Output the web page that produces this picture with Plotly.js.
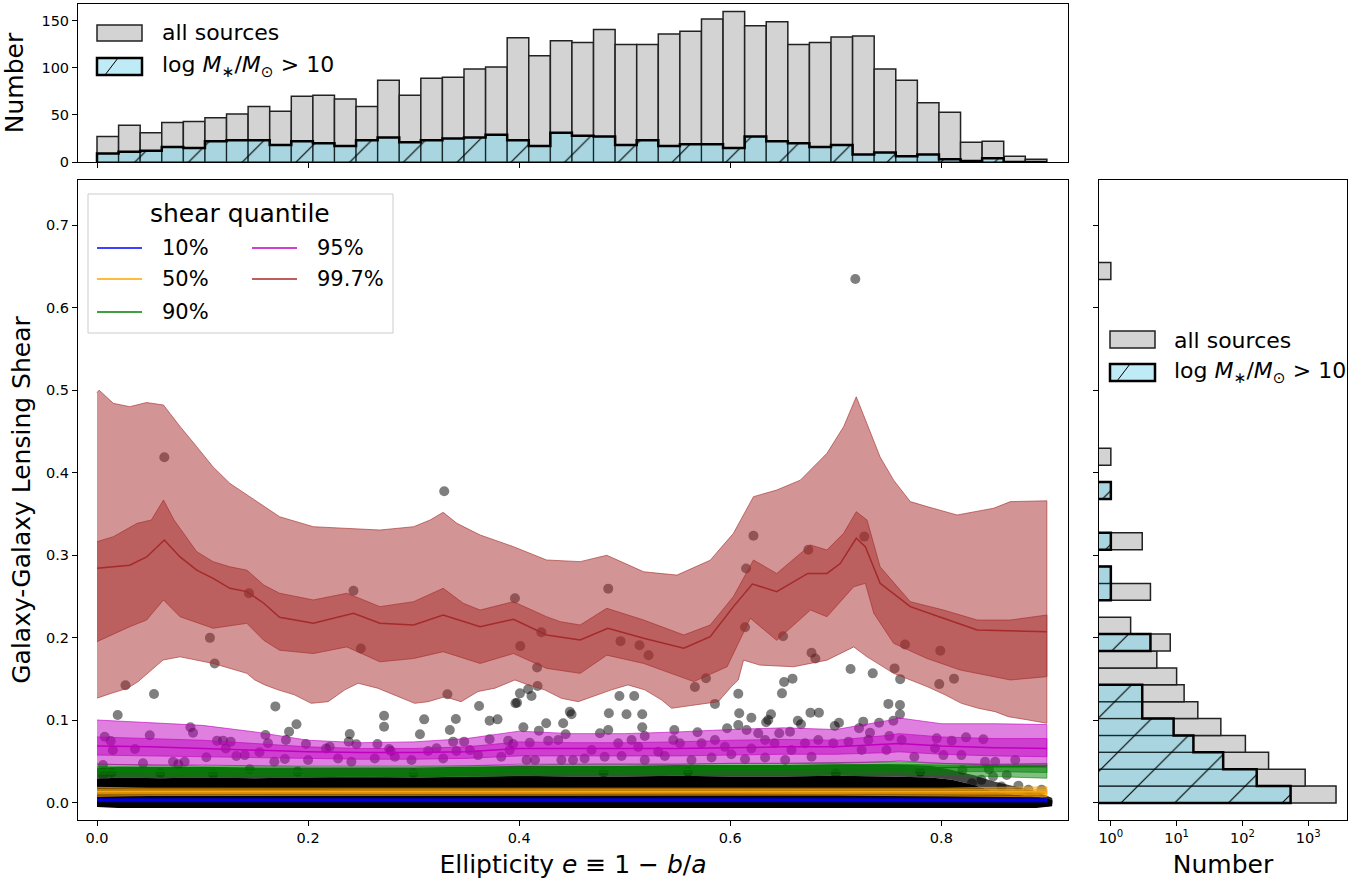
<!DOCTYPE html>
<html><head><meta charset="utf-8">
<script src="https://cdn.plot.ly/plotly-3.0.1.min.js"></script>
<style>html,body{margin:0;padding:0;background:#fff}#chart{width:1364px;height:884px}</style>
</head><body><div id="chart"></div>
<script>
// ---------------- DATA ----------------
// histogram bins (same bins for ellipticity and shear)
const BIN_START = 0.0, BIN_END = 0.9;
const TOP_ALL  = [27,39,31,42,43,47,51,59,54,70, 71,67,59,87,71,89,90,99,101,132, 113,129,127,141,125,125,136,139,152,160, 145,149,125,127,133,134,99,87,63,53, 21,22,6,3];
const TOP_MASS = [9,11,12,16,15,22,23,23,18,22, 20,17,23,26,21,23,25,26,29,23, 17,31,28,27,18,23,17,19,19,15, 27,22,20,16,18,8,10,6,8,3, 1,4,0,0];
const RIGHT_ALL  = [2650,900,250,111,47,21,13,10,5,8, 2,0,4,1,0,3,0,0,1,0, 1,0,0,0,0,0,0,0,0,0, 0,1,0,0,0,0,0,0,0,0, 0,0,0,0];
const RIGHT_MASS = [540,165,51,18,9,3,3,0,0,4, 0,0,1,1,0,1,0,0,1,0, 0,0,0,0,0,0,0,0,0,0, 0,0,0,0,0,0,0,0,0,0, 0,0,0,0];

// individual sources (ellipticity, shear)
const SCATTER_E = [
 0.7185,0.0638,0.329,0.622,0.674,0.727,0.615,0.4844,0.144,0.243,
 0.396,0.421,0.614,0.107,0.250,0.401,0.496,0.514,0.650,0.7656,
 0.799,0.1115,0.417,0.5226,0.677,0.6806,0.7557,0.714,0.735,0.761,
 0.798,0.812,0.577,0.659,0.651,0.5665,0.027,0.054,0.332,0.4007,
 0.4085,0.4174,0.4117,0.3965,0.398,0.649,0.6076,0.495,0.509,
 0.0196,0.169,0.272,0.362,0.310,0.340,0.372,0.3795,0.448,0.4496,
 0.5855,0.485,0.5017,0.5166,0.6085,0.620,0.6386,0.636,0.676,0.684,
 0.7498,0.7608,0.7608,0.664,
 0.272,0.189,0.182,0.0885,0.091,0.1596,0.050,0.0073,0.2395,0.306,
 0.3343,0.4256,0.4187,0.4417,0.444,0.404,0.634,0.667,0.4844,0.4765,
 0.5166,0.519,0.547,0.569,0.597,0.6076,0.6155,0.6265,0.6464,0.6566,
 0.703,0.699,0.726,0.741,0.7545,0.722,0.7324,0.7507,
 0.013,0.036,0.015,0.1137,0.1194,0.1267,0.122,0.162,0.179,0.198,
 0.217,0.2385,0.2657,0.2458,0.2768,0.2784,0.3137,0.3217,0.3374,0.3479,
 0.372,0.3896,0.3943,0.410,0.4275,0.437,0.3406,0.3533,0.391,0.2205,
 0.154,0.6976,0.712,0.7308,0.7624,0.7956,0.8098,0.8234,0.8398,0.748,
 0.7245,0.794,
 0.4686,0.4938,0.5065,0.5128,0.5318,0.546,0.5523,0.5728,0.5855,0.595,0.620,0.633,0.642,0.658,0.6708,0.6834,
 0.1036,0.132,0.140,0.178,0.200,0.168,0.072,0.077,0.083,0.0436,
 0.0057,0.1447,0.328,0.361,0.2632,0.2822,0.298,0.383,0.2284,0.241,
 0.407,0.415,0.440,0.451,0.7744,0.802,0.819,0.8414,0.851,0.870,
 0.462,0.481,0.497,0.519,0.538,0.5633,0.5823,0.601,0.614,0.633,0.652,0.677,
 0.862,0.849,0.838,0.829,0.857,0.873,0.8825,0.895,0.901,
 0.006,0.014,0.060,0.110,0.190,0.300,0.480,0.560,0.700,0.780,0.820,0.845
];
const SCATTER_S = [
 0.6346,0.4187,0.3775,0.3237,0.3068,0.3226,0.284,0.2596,0.254,0.257,
 0.248,0.2067,0.2128,0.200,0.187,0.190,0.196,0.191,0.202,0.192,
 0.1845,0.169,0.164,0.179,0.182,0.175,0.163,0.1623,0.157,0.150,
 0.144,0.1506,0.151,0.1506,0.1465,0.1405,0.1425,0.132,0.1316,0.1328,
 0.1377,0.1417,0.1296,0.1207,0.1215,0.1328,0.1324,0.1296,0.1296,
 0.1066,0.117,0.1057,0.1175,0.1013,0.1017,0.0997,0.1013,0.1106,0.1074,
 0.120,0.1086,0.1074,0.1074,0.1086,0.1033,0.1074,0.1005,0.1094,0.1094,
 0.120,0.1187,0.1074,0.0997,
 0.0924,0.0953,0.0864,0.0917,0.085,0.0824,0.082,0.0803,0.0836,0.0832,
 0.0884,0.0965,0.0876,0.0965,0.0832,0.0917,0.0977,0.0953,0.0884,0.0844,
 0.0917,0.0811,0.0884,0.0856,0.0905,0.0945,0.0884,0.0844,0.0844,0.0864,
 0.0972,0.0933,0.0985,0.0972,0.0997,0.0905,0.0851,0.081,
 0.075,0.0654,0.064,0.0755,0.0755,0.0743,0.066,0.0723,0.0763,0.0714,
 0.066,0.0743,0.0714,0.0711,0.0654,0.063,0.063,0.0662,0.0743,0.0743,
 0.0771,0.0755,0.0714,0.073,0.0755,0.0763,0.063,0.0642,0.064,0.068,
 0.0614,0.0723,0.0743,0.0763,0.0763,0.0783,0.0755,0.0795,0.0771,0.0642,
 0.0642,0.0662,
 0.0642,0.0723,0.0763,0.068,0.062,0.0763,0.0723,0.0723,0.0763,0.068,0.066,0.0763,0.0723,0.0642,0.0723,0.0763,
 0.0553,0.057,0.058,0.0533,0.052,0.050,0.050,0.047,0.050,0.048,
 0.046,0.0408,0.054,0.058,0.054,0.056,0.052,0.056,0.054,0.050,
 0.052,0.052,0.052,0.052,0.056,0.058,0.058,0.050,0.050,0.052,
 0.054,0.056,0.057,0.052,0.057,0.052,0.055,0.059,0.053,0.055,0.052,0.056,
 0.034,0.032,0.028,0.024,0.020,0.021,0.016,0.016,0.0016,
 0.033,0.037,0.036,0.035,0.038,0.036,0.037,0.038,0.036,0.038,0.040,0.041
];
// envelope of the densely packed sources near zero shear
const CLOUD_E     = [0.0,0.02,0.06,0.10,0.15,0.20,0.25,0.30,0.35,0.40,0.45,0.50,0.55,0.60,0.65,0.70,0.75,0.79,0.81,0.83,0.85,0.87,0.89,0.905];
const CLOUD_TOP   = [0.029,0.031,0.030,0.031,0.030,0.031,0.032,0.031,0.032,0.033,0.032,0.032,0.033,0.032,0.032,0.033,0.032,0.031,0.028,0.022,0.014,0.010,0.008,0.004];
const CLOUD_BOT   = [-0.005,-0.006,-0.006,-0.006,-0.006,-0.006,-0.006,-0.006,-0.006,-0.006,-0.006,-0.006,-0.006,-0.006,-0.006,-0.006,-0.006,-0.006,-0.006,-0.006,-0.006,-0.006,-0.006,-0.004];
const SPARSE_TOP  = [0.042,0.044,0.044,0.044,0.043,0.043,0.043,0.043,0.044,0.045,0.045,0.045,0.046,0.046,0.046,0.047,0.047,0.045,0.040,0.034,0.026,0.020,0.014,0.006];

// 99.7% quantile: line, inner band, outer band
const R_OUT_TOP_E = [0.000,0.002,0.0155,0.031,0.047,0.063,0.069,0.0787,0.0945,0.110,0.126,0.142,0.1577,0.173,0.205,0.2367,0.268,0.300,0.3156,0.328,0.341,0.363,0.3946,0.426,0.4578,0.483,0.518,0.5495,0.581,0.603,0.622,0.644,0.6664,0.6916,0.7074,0.7194,0.7296,0.742,0.7548,0.7706,0.7864,0.8149,0.8496,0.8654,0.900];
const R_OUT_TOP   = [0.497,0.500,0.484,0.480,0.485,0.482,0.472,0.456,0.4315,0.407,0.387,0.373,0.359,0.3467,0.3346,0.3327,0.3306,0.3346,0.3427,0.352,0.3387,0.3246,0.3104,0.2943,0.2923,0.300,0.280,0.276,0.294,0.3266,0.371,0.379,0.391,0.4235,0.4557,0.492,0.460,0.419,0.391,0.365,0.359,0.3488,0.357,0.365,0.366];
const R_OUT_BOT_E = [0.000,0.0136,0.029,0.039,0.0626,0.0787,0.110,0.142,0.1495,0.159,0.1716,0.187,0.203,0.219,0.2348,0.2474,0.266,0.282,0.301,0.3137,0.3296,0.345,0.361,0.377,0.396,0.4085,0.424,0.440,0.456,0.4875,0.503,0.519,0.535,0.5444,0.5665,0.5886,0.601,0.6076,0.6126,0.628,0.660,0.6916,0.717,0.7296,0.7548,0.7864,0.8035,0.819,0.835,0.851,0.8635,0.8825,0.900];
const R_OUT_BOT   = [0.127,0.1328,0.139,0.147,0.1732,0.177,0.169,0.157,0.149,0.143,0.137,0.131,0.1207,0.1227,0.137,0.145,0.139,0.131,0.1207,0.1227,0.1287,0.1227,0.135,0.139,0.149,0.143,0.137,0.1268,0.1227,0.137,0.143,0.137,0.1247,0.1147,0.1187,0.1227,0.1408,0.149,0.173,0.167,0.165,0.173,0.189,0.177,0.157,0.141,0.131,0.1207,0.1147,0.1106,0.1045,0.1005,0.0965];
const R_IN_TOP_E  = [0.000,0.0155,0.038,0.0515,0.063,0.073,0.0945,0.110,0.126,0.142,0.158,0.173,0.205,0.2367,0.2525,0.268,0.300,0.328,0.347,0.363,0.3946,0.426,0.4389,0.4578,0.483,0.518,0.556,0.581,0.603,0.622,0.644,0.676,0.6916,0.7074,0.7194,0.7296,0.742,0.7706,0.802,0.834,0.8654,0.900];
const R_IN_TOP    = [0.3165,0.3225,0.3387,0.3427,0.367,0.3427,0.3044,0.2923,0.286,0.282,0.264,0.254,0.2459,0.254,0.2459,0.2378,0.2438,0.260,0.2419,0.2337,0.2438,0.2256,0.2196,0.2156,0.2358,0.2216,0.2035,0.2156,0.250,0.2943,0.278,0.3125,0.3064,0.3266,0.3528,0.3427,0.286,0.2438,0.2337,0.2216,0.2216,0.2277];
const R_IN_BOT_E  = [0.000,0.031,0.047,0.063,0.0787,0.110,0.142,0.158,0.173,0.205,0.2367,0.268,0.300,0.328,0.363,0.3946,0.426,0.4389,0.4578,0.483,0.518,0.5655,0.597,0.619,0.644,0.676,0.6916,0.717,0.728,0.736,0.7548,0.7864,0.818,0.8654,0.900];
const R_IN_BOT    = [0.1954,0.2135,0.2216,0.2459,0.2256,0.2116,0.2176,0.197,0.185,0.181,0.189,0.171,0.175,0.1832,0.169,0.181,0.163,0.161,0.157,0.179,0.169,0.147,0.165,0.2237,0.197,0.2337,0.2256,0.262,0.266,0.2297,0.1934,0.175,0.161,0.149,0.153];
const R_LINE_E    = [0.000,0.031,0.047,0.0638,0.0787,0.0945,0.110,0.126,0.142,0.158,0.173,0.205,0.243,0.268,0.300,0.328,0.363,0.3946,0.426,0.4578,0.484,0.518,0.556,0.581,0.603,0.621,0.644,0.6735,0.6916,0.7042,0.7194,0.728,0.742,0.7706,0.802,0.834,0.900];
const R_LINE      = [0.2842,0.288,0.298,0.3185,0.298,0.282,0.272,0.260,0.256,0.2419,0.2249,0.2176,0.2297,0.2176,0.2156,0.2277,0.2135,0.2225,0.2035,0.1974,0.2116,0.1995,0.1874,0.2014,0.2378,0.2652,0.256,0.278,0.278,0.290,0.3206,0.3104,0.266,0.2378,0.2237,0.2095,0.2075];

// lower quantiles (95%, 90%, 50%, 10%) on a common ellipticity grid
const Q_E       = [0,0.05,0.1,0.15,0.2,0.25,0.3,0.35,0.4,0.45,0.5,0.55,0.6,0.65,0.7,0.75,0.76,0.8,0.85,0.9];
const M_OUT_TOP = [0.1005,0.097,0.094,0.086,0.076,0.073,0.074,0.078,0.087,0.084,0.084,0.086,0.089,0.091,0.089,0.100,0.103,0.096,0.096,0.095];
const M_IN_TOP  = [0.080,0.078,0.076,0.072,0.068,0.066,0.066,0.068,0.074,0.073,0.073,0.074,0.076,0.077,0.076,0.082,0.084,0.080,0.078,0.078];
const M_LINE    = [0.069,0.068,0.066,0.064,0.062,0.061,0.061,0.062,0.066,0.066,0.066,0.066,0.067,0.068,0.068,0.071,0.072,0.069,0.067,0.066];
const M_IN_BOT  = [0.058,0.057,0.056,0.055,0.054,0.053,0.053,0.054,0.057,0.057,0.057,0.057,0.058,0.059,0.059,0.061,0.062,0.059,0.057,0.056];
const M_OUT_BOT = [0.047,0.046,0.046,0.045,0.045,0.045,0.045,0.045,0.047,0.047,0.047,0.047,0.048,0.048,0.048,0.050,0.051,0.048,0.046,0.045];
const G_OUT_TOP = [0.047,0.046,0.045,0.045,0.044,0.044,0.044,0.045,0.046,0.047,0.047,0.047,0.048,0.048,0.049,0.050,0.050,0.048,0.047,0.048];
const G_IN_TOP  = [0.044,0.043,0.042,0.042,0.041,0.041,0.041,0.042,0.043,0.044,0.044,0.044,0.045,0.045,0.046,0.047,0.047,0.046,0.046,0.046];
const G_LINE    = [0.040,0.039,0.039,0.038,0.038,0.038,0.038,0.039,0.040,0.041,0.041,0.041,0.042,0.042,0.043,0.043,0.043,0.043,0.044,0.044];
const G_IN_BOT  = [0.035,0.035,0.034,0.034,0.034,0.034,0.034,0.035,0.036,0.037,0.037,0.037,0.038,0.038,0.038,0.039,0.039,0.038,0.038,0.037];
const G_OUT_BOT = [0.031,0.031,0.031,0.031,0.031,0.031,0.031,0.032,0.033,0.033,0.033,0.034,0.034,0.034,0.034,0.035,0.035,0.034,0.032,0.030];
const O_OUT_TOP = [0.019,0.018,0.018,0.018,0.018,0.018,0.018,0.018,0.018,0.018,0.018,0.018,0.018,0.018,0.018,0.018,0.018,0.018,0.019,0.0195];
const O_IN_TOP  = [0.016,0.0158,0.0158,0.0158,0.0158,0.016,0.016,0.016,0.0162,0.0162,0.0162,0.0162,0.0162,0.0162,0.0162,0.016,0.016,0.0158,0.0162,0.0165];
const O_LINE    = [0.0135,0.0135,0.0135,0.0135,0.0135,0.0138,0.0138,0.0138,0.014,0.014,0.014,0.014,0.014,0.014,0.014,0.0138,0.0138,0.0135,0.0135,0.0135];
const O_IN_BOT  = [0.011,0.0112,0.0112,0.0112,0.0112,0.0115,0.0115,0.0115,0.0118,0.0118,0.0118,0.0118,0.0118,0.0118,0.0118,0.0115,0.0115,0.0112,0.0108,0.0105];
const O_OUT_BOT = [0.008,0.009,0.0095,0.0095,0.0095,0.0095,0.0095,0.0095,0.0095,0.0095,0.0095,0.0095,0.0095,0.0095,0.0095,0.0095,0.0095,0.009,0.008,0.0075];
const B_OUT_TOP = [0.006,0.0058,0.0058,0.0058,0.0058,0.0058,0.0058,0.0058,0.0058,0.0058,0.0058,0.0058,0.0058,0.0058,0.0058,0.0058,0.0058,0.0058,0.006,0.0062];
const B_LINE    = [0.0037,0.0037,0.0037,0.0037,0.0037,0.0037,0.0037,0.0037,0.0037,0.0037,0.0037,0.0037,0.0037,0.0037,0.0037,0.0037,0.0037,0.0037,0.0037,0.0037];
const B_OUT_BOT = [0.0015,0.0016,0.0016,0.0016,0.0016,0.0016,0.0016,0.0016,0.0016,0.0016,0.0016,0.0016,0.0016,0.0016,0.0016,0.0016,0.0016,0.0016,0.0014,0.0012];

const QUANTILE_LABELS = ['10%','50%','90%','95%','99.7%'];
const QUANTILE_COLORS = ['#0000ff','#ffa500','#008000','#bf00bf','#a52a2a'];

// ---------------- BUILD ----------------
const NB = TOP_ALL.length;
const BW = (BIN_END - BIN_START) / NB;
const EDGES = Array.from({length: NB + 1}, (_, i) => BIN_START + i * BW);
const CENTERS = EDGES.slice(0, -1).map(e => e + BW / 2);
const nz = a => a.map(v => v > 0 ? v : null);

function stepPath(counts, floor) {
  const p = [EDGES[0]], c = [floor];
  counts.forEach((n, i) => { const v = n > 0 ? n : floor; p.push(EDGES[i], EDGES[i + 1]); c.push(v, v); });
  p.push(EDGES[NB]); c.push(floor);
  return [p, c];
}
function rgba(hex, a) {
  const n = parseInt(hex.slice(1), 16);
  return `rgba(${(n >> 16) & 255},${(n >> 8) & 255},${n & 255},${a})`;
}
function polygon(xt, yt, xb, yb, color, alpha) {
  return {type: 'scatter', mode: 'lines', x: xt.concat(xb.slice().reverse()), y: yt.concat(yb.slice().reverse()),
    fill: 'toself', fillcolor: rgba(color, alpha), line: {color: rgba(color, Math.min(1, alpha + 0.1)), width: 1},
    hoverinfo: 'skip', showlegend: false, xaxis: 'x', yaxis: 'y'};
}
function qline(xs, ys, color, name) {
  return {type: 'scatter', mode: 'lines', x: xs, y: ys, line: {color: color, width: 1.5}, name: name,
    hoverinfo: 'skip', showlegend: false, xaxis: 'x', yaxis: 'y'};
}

const GREY = '#d3d3d3', CYAN = 'rgba(125,215,235,0.5)';
const pattern = {shape: '/', fgcolor: '#000000', bgcolor: CYAN, size: 38, solidity: 0.03, fillmode: 'replace'};

const traces = [];
// top histogram
traces.push({type: 'bar', x: CENTERS, y: nz(TOP_ALL), width: BW, xaxis: 'x2', yaxis: 'y2',
  marker: {color: GREY, line: {color: '#222', width: 1.5}}, hoverinfo: 'skip', showlegend: false});
traces.push({type: 'bar', x: CENTERS, y: nz(TOP_MASS), width: BW, xaxis: 'x2', yaxis: 'y2',
  marker: {color: CYAN, line: {color: 'rgba(0,0,0,0.55)', width: 1}, pattern: pattern}, hoverinfo: 'skip', showlegend: false});
const topStep = stepPath(TOP_MASS, 0);
traces.push({type: 'scatter', mode: 'lines', x: topStep[0], y: topStep[1], xaxis: 'x2', yaxis: 'y2',
  line: {color: '#000', width: 2.5}, hoverinfo: 'skip', showlegend: false});
// right histogram
traces.push({type: 'bar', orientation: 'h', y: CENTERS, x: nz(RIGHT_ALL), width: BW, xaxis: 'x3', yaxis: 'y3',
  marker: {color: GREY, line: {color: '#222', width: 1.5}}, hoverinfo: 'skip', showlegend: false});
traces.push({type: 'bar', orientation: 'h', y: CENTERS, x: nz(RIGHT_MASS), width: BW, xaxis: 'x3', yaxis: 'y3',
  marker: {color: CYAN, line: {color: 'rgba(0,0,0,0.55)', width: 1}, pattern: pattern}, hoverinfo: 'skip', showlegend: false});
const rightStep = stepPath(RIGHT_MASS, 0.01);
traces.push({type: 'scatter', mode: 'lines', x: rightStep[1], y: rightStep[0], xaxis: 'x3', yaxis: 'y3',
  line: {color: '#000', width: 2.5}, hoverinfo: 'skip', showlegend: false});

// main panel: dense cloud + individual sources
traces.push({type: 'scatter', mode: 'lines', x: CLOUD_E.concat(CLOUD_E.slice().reverse()), y: SPARSE_TOP.concat(CLOUD_TOP.slice().reverse()),
  fill: 'toself', fillcolor: 'rgba(0,0,0,0.72)', line: {width: 0}, hoverinfo: 'skip', showlegend: false});
traces.push({type: 'scatter', mode: 'lines', x: CLOUD_E.concat(CLOUD_E.slice().reverse()), y: CLOUD_TOP.concat(CLOUD_BOT.slice().reverse()),
  fill: 'toself', fillcolor: '#000000', line: {width: 0}, hoverinfo: 'skip', showlegend: false});
traces.push({type: 'scatter', mode: 'markers', x: SCATTER_E, y: SCATTER_S, xaxis: 'x', yaxis: 'y',
  marker: {size: 10, color: 'rgba(0,0,0,0.5)', line: {width: 0}}, hoverinfo: 'skip', showlegend: false});

// quantile bands
const [cB, cO, cG, cM, cR] = QUANTILE_COLORS;
traces.push(polygon(Q_E, B_OUT_TOP, Q_E, B_OUT_BOT, cB, 0.5));
traces.push(qline(Q_E, B_LINE, cB, QUANTILE_LABELS[0]));
traces.push(polygon(Q_E, O_OUT_TOP, Q_E, O_OUT_BOT, cO, 0.5));
traces.push(polygon(Q_E, O_IN_TOP, Q_E, O_IN_BOT, cO, 0.5));
traces.push(qline(Q_E, O_LINE, cO, QUANTILE_LABELS[1]));
traces.push(polygon(Q_E, G_OUT_TOP, Q_E, G_OUT_BOT, cG, 0.5));
traces.push(polygon(Q_E, G_IN_TOP, Q_E, G_IN_BOT, cG, 0.5));
traces.push(qline(Q_E, G_LINE, cG, QUANTILE_LABELS[2]));
traces.push(polygon(Q_E, M_OUT_TOP, Q_E, M_OUT_BOT, cM, 0.5));
traces.push(polygon(Q_E, M_IN_TOP, Q_E, M_IN_BOT, cM, 0.5));
traces.push(qline(Q_E, M_LINE, cM, QUANTILE_LABELS[3]));
traces.push(polygon(R_OUT_TOP_E, R_OUT_TOP, R_OUT_BOT_E, R_OUT_BOT, cR, 0.5));
traces.push(polygon(R_IN_TOP_E, R_IN_TOP, R_IN_BOT_E, R_IN_BOT, cR, 0.5));
traces.push(qline(R_LINE_E, R_LINE, cR, QUANTILE_LABELS[4]));

// ---------------- LAYOUT ----------------
const ML = 78, MR = 17, MT = 4, MB = 64, W = 1364, H = 884;
const PW = W - ML - MR, PH = H - MT - MB;
const PX = px => (px - ML) / PW;
const PY = py => (H - MB - py) / PH;
const FONT = 'DejaVu Sans, Verdana, sans-serif';

const axBase = {showline: true, linecolor: '#000', linewidth: 1, mirror: true, ticks: 'outside', ticklen: 5,
  tickwidth: 1, tickcolor: '#000', showgrid: false, zeroline: false, tickfont: {size: 14.5, color: '#000'}};

const shapes = [], annotations = [];
function rect(x0, y0, x1, y1, fill, lc, lw) {
  shapes.push({type: 'rect', xref: 'paper', yref: 'paper', x0: PX(x0), x1: PX(x1), y0: PY(y1), y1: PY(y0),
    fillcolor: fill, line: {color: lc, width: lw}, layer: 'above'});
}
function seg(x0, y0, x1, y1, color, w) {
  shapes.push({type: 'line', xref: 'paper', yref: 'paper', x0: PX(x0), x1: PX(x1), y0: PY(y0), y1: PY(y1),
    line: {color: color, width: w}, layer: 'above'});
}
function label(x, y, text, size, anchor) {
  annotations.push({xref: 'paper', yref: 'paper', x: PX(x), y: PY(y), text: text, showarrow: false,
    xanchor: anchor || 'left', yanchor: 'middle', font: {size: size, color: '#000', family: FONT}});
}
const MASS_LABEL = 'log <i>M</i><sub>∗</sub>/<i>M</i><sub>⊙</sub> &gt; 10';

// main legend
rect(88, 194, 393, 333, 'rgba(255,255,255,0.8)', '#cccccc', 1);
label(240, 214, 'shear quantile', 25, 'center');
const legPos = [[97, 248], [97, 279], [97, 312], [252, 248], [252, 279]];
QUANTILE_LABELS.forEach((t, i) => {
  const [x, y] = legPos[i];
  seg(x, y, x + 45, y, QUANTILE_COLORS[i], 1.5);
  label(x + 63, y, t, 21);
});
// top histogram legend
rect(97, 25, 142, 41, GREY, '#222', 1.5);
label(160, 33, 'all sources', 22);
rect(97, 58, 142, 75, 'rgb(190,235,245)', '#000', 2.5);
seg(105, 75, 118, 58, '#000', 1);
label(160, 67, MASS_LABEL, 22);
// right histogram legend
rect(1110, 331, 1155, 348, GREY, '#222', 1.5);
label(1172, 340, 'all sources', 22);
rect(1110, 364, 1155, 381, 'rgb(190,235,245)', '#000', 2.5);
seg(1117, 381, 1130, 364, '#000', 1);
label(1172, 373, MASS_LABEL, 22);

const layout = {
  width: W, height: H, margin: {l: ML, r: MR, t: MT, b: MB}, paper_bgcolor: '#fff', plot_bgcolor: '#fff',
  font: {family: FONT, color: '#000'}, showlegend: false, barmode: 'overlay', bargap: 0,
  xaxis: Object.assign({}, axBase, {domain: [0, PX(1068)], range: [-0.018, 0.920], anchor: 'y',
    tickvals: [0, 0.2, 0.4, 0.6, 0.8], ticktext: ['0.0', '0.2', '0.4', '0.6', '0.8'],
    title: {text: 'Ellipticity <i>e</i> ≡ 1 − <i>b</i>/<i>a</i>', font: {size: 25}, standoff: 10}}),
  yaxis: Object.assign({}, axBase, {domain: [0, PY(180)], range: [-0.0206, 0.7545], anchor: 'x',
    tickvals: [0, 0.1, 0.2, 0.3, 0.4, 0.5, 0.6, 0.7], ticktext: ['0.0', '0.1', '0.2', '0.3', '0.4', '0.5', '0.6', '0.7'],
    title: {text: 'Galaxy-Galaxy Lensing Shear', font: {size: 25}, standoff: 8}}),
  xaxis2: Object.assign({}, axBase, {domain: [0, PX(1068)], range: [-0.018, 0.920], anchor: 'y2',
    tickvals: [0, 0.2, 0.4, 0.6, 0.8], showticklabels: false}),
  yaxis2: Object.assign({}, axBase, {domain: [PY(162), 1], range: [0, 168], anchor: 'x2',
    tickvals: [0, 50, 100, 150], title: {text: 'Number', font: {size: 25}, standoff: 12}}),
  xaxis3: Object.assign({}, axBase, {domain: [PX(1099), 1], type: 'log', range: [-0.18, 3.59], anchor: 'y3',
    tickvals: [1, 10, 100, 1000], ticktext: ['10<sup>0</sup>', '10<sup>1</sup>', '10<sup>2</sup>', '10<sup>3</sup>'],
    title: {text: 'Number', font: {size: 25}, standoff: 10}}),
  yaxis3: Object.assign({}, axBase, {domain: [0, PY(180)], range: [-0.0206, 0.7545], anchor: 'x3',
    tickvals: [0, 0.1, 0.2, 0.3, 0.4, 0.5, 0.6, 0.7], showticklabels: false}),
  shapes: shapes, annotations: annotations
};

Plotly.newPlot('chart', traces, layout, {displayModeBar: false, staticPlot: true});
</script></body></html>
